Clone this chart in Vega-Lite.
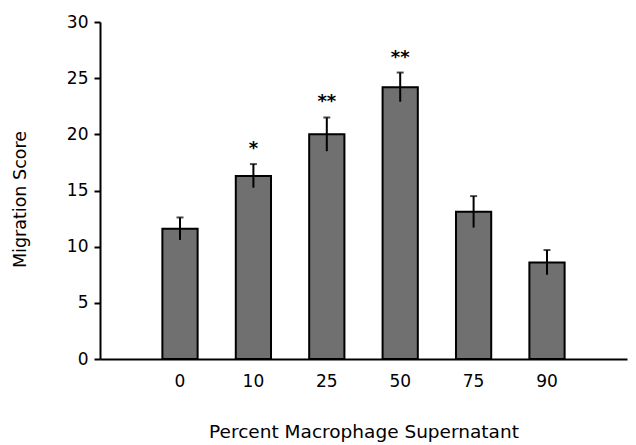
{
  "$schema": "https://vega.github.io/schema/vega-lite/v6.json",
  "width": 527,
  "height": 337,
  "autosize": {"type": "none"},
  "padding": {"left": 100, "top": 22, "right": 9, "bottom": 86},
  "background": "white",
  "config": {
    "view": {"stroke": null},
    "font": "DejaVu Sans",
    "axis": {"labelFont": "DejaVu Sans", "titleFont": "DejaVu Sans", "labelColor": "black", "titleColor": "black", "domainColor": "black", "tickColor": "black", "grid": false, "titleFontWeight": "normal"}
  },
  "data": {
    "values": [
      {"pct": "0", "score": 11.6, "err": 1.0, "sig": ""},
      {"pct": "10", "score": 16.3, "err": 1.05, "sig": "*"},
      {"pct": "25", "score": 20.0, "err": 1.5, "sig": "**"},
      {"pct": "50", "score": 24.2, "err": 1.3, "sig": "**"},
      {"pct": "75", "score": 13.1, "err": 1.4, "sig": ""},
      {"pct": "90", "score": 8.6, "err": 1.1, "sig": ""}
    ]
  },
  "transform": [
    {"calculate": "datum.score + datum.err", "as": "hi"},
    {"calculate": "datum.score - datum.err", "as": "lo"}
  ],
  "encoding": {
    "x": {
      "field": "pct", "type": "nominal", "sort": null,
      "scale": {"paddingInner": 0.52, "paddingOuter": 0.85},
      "axis": {"title": "Percent Macrophage Supernatant", "labelAngle": 0, "ticks": false, "labelFontSize": 17, "labelPadding": 14, "titleFontSize": 18.5, "titlePadding": 33, "domainWidth": 2}
    }
  },
  "layer": [
    {
      "mark": {"type": "bar", "fill": "#707070", "stroke": "black", "strokeWidth": 2},
      "encoding": {
        "y": {"field": "score", "type": "quantitative", "scale": {"domain": [0, 30]},
          "axis": {"title": "Migration Score", "values": [0, 5, 10, 15, 20, 25, 30], "tickSize": 6, "tickWidth": 2, "domainWidth": 2, "labelFontSize": 17, "labelPadding": 6, "titleFontSize": 17.5, "titlePadding": 37, "titleY": 177}}
      }
    },
    {
      "mark": {"type": "rule", "color": "black", "strokeWidth": 2},
      "encoding": {"y": {"field": "lo", "type": "quantitative"}, "y2": {"field": "hi"}}
    },
    {
      "mark": {"type": "tick", "color": "black", "thickness": 2, "size": 7},
      "encoding": {"y": {"field": "hi", "type": "quantitative"}}
    },
    {
      "mark": {"type": "text", "fontSize": 18, "fontWeight": "bold", "dy": -15, "baseline": "middle", "color": "black"},
      "encoding": {"y": {"field": "hi", "type": "quantitative"}, "text": {"field": "sig"}}
    }
  ]
}
